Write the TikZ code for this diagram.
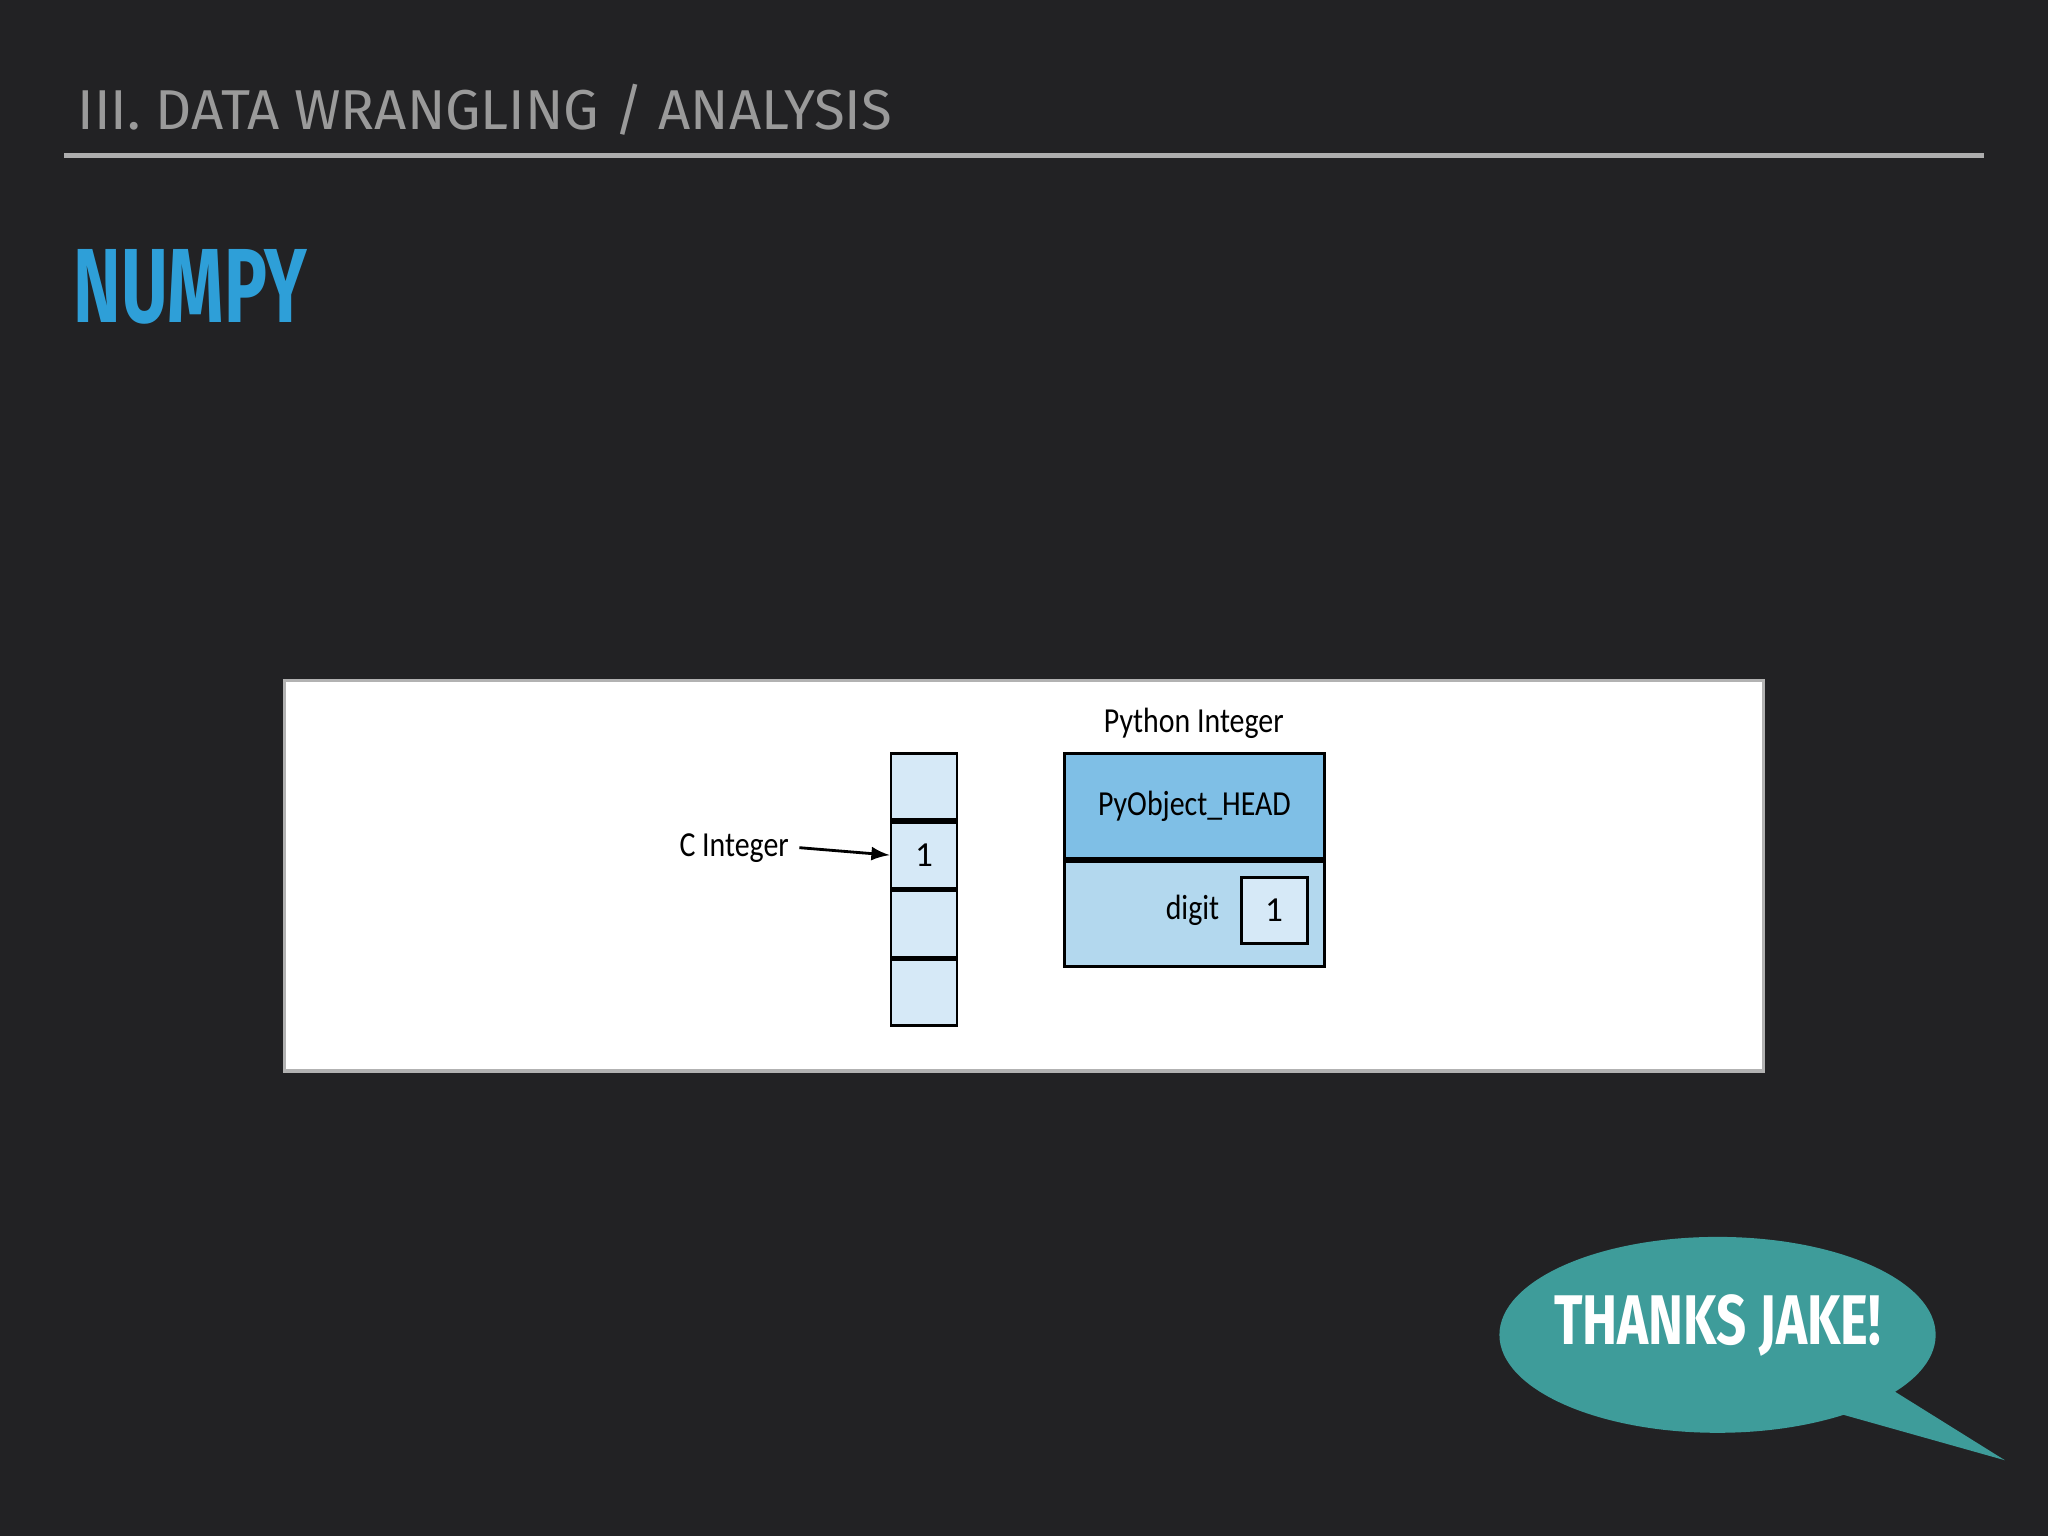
\documentclass[tikz,border=0pt]{standalone}
\usepackage{fontspec}
\setmainfont{Fira Sans}
\newfontfamily\diagfont{Carlito}
\usepackage{xcolor}
\usetikzlibrary{shapes,arrows,positioning,patterns}
\definecolor{slidebg}{HTML}{222224}
\definecolor{headgray}{HTML}{9A9A9A}
\definecolor{titleblue}{HTML}{2E9FD8}
\definecolor{cellblue}{HTML}{D6E9F7}
\definecolor{headblue}{HTML}{7FBFE6}
\definecolor{digitblue}{HTML}{B3D8EE}
\definecolor{bubbleteal}{HTML}{3E9C9A}
\tikzset{
  cell/.style={draw, thick, fill=cellblue, minimum width=0.66cm, minimum height=0.66cm, inner sep=0pt},
  lbl/.style={font=\diagfont\fontsize{10}{12}\selectfont, xscale=0.85},
}
\begin{document}
\begin{tikzpicture}[x={(0.01306cm,0)}, y={(0,-0.01306cm)}]
\fill[slidebg] (0,0) rectangle (1568,1176);
\useasboundingbox (0,0) rectangle (1568,1176);

% heading and rule
\node[anchor=west, text=headgray, font=\fontsize{16}{18}\selectfont] (head) at (50,84) {III. DATA WRANGLING / ANALYSIS};
\draw[headgray!80, line width=1.2pt] (49,119) -- (1519,119);
\node[anchor=west, text=titleblue, font=\bfseries\fontsize{30}{34}\selectfont, xscale=0.68] (title) at (50,220) {NUMPY};

% white panel
\draw[fill=white, draw=gray!60, line width=1pt] (218,521) rectangle (1350,820);

% C integer column
\node[cell] (c1) at (707.5,602) {};
\node[cell, below=0pt of c1] (c2) {\diagfont 1};
\node[cell, below=0pt of c2] (c3) {};
\node[cell, below=0pt of c3] (c4) {};
\node[lbl, anchor=east] (clbl) at (612,649) {C Integer};
\draw[-latex, thick] (clbl.east) -- (c2.west);

% Python integer
\node[lbl] (plbl) at (914,554) {Python Integer};
\node[draw, thick, fill=headblue, minimum width=2.6cm, minimum height=1.05cm, lbl, xscale=1/0.85, font=\diagfont\fontsize{10}{12}\selectfont] (pyhead) at (914.5,617) {\scalebox{0.85}[1]{PyObject\_HEAD}};
\node[draw, thick, fill=digitblue, minimum width=2.6cm, minimum height=1.05cm, below=0pt of pyhead] (pydigit) {};
\node[lbl] (dlbl) at (913,697) {digit};
\node[draw, thick, fill=cellblue, minimum width=0.66cm, minimum height=0.66cm, inner sep=0pt] (dval) at (975.5,697) {\diagfont 1};

% speech bubble
\fill[bubbleteal] (1400,1080) -- (1535,1118) -- (1450,1065) -- cycle;
\fill[bubbleteal] (1315,1022) ellipse [x radius=167, y radius=75];
\node[text=white, font=\bfseries\fontsize{20}{24}\selectfont, xscale=0.75] (thanks) at (1315,1015) {THANKS JAKE!};
\end{tikzpicture}
\end{document}
